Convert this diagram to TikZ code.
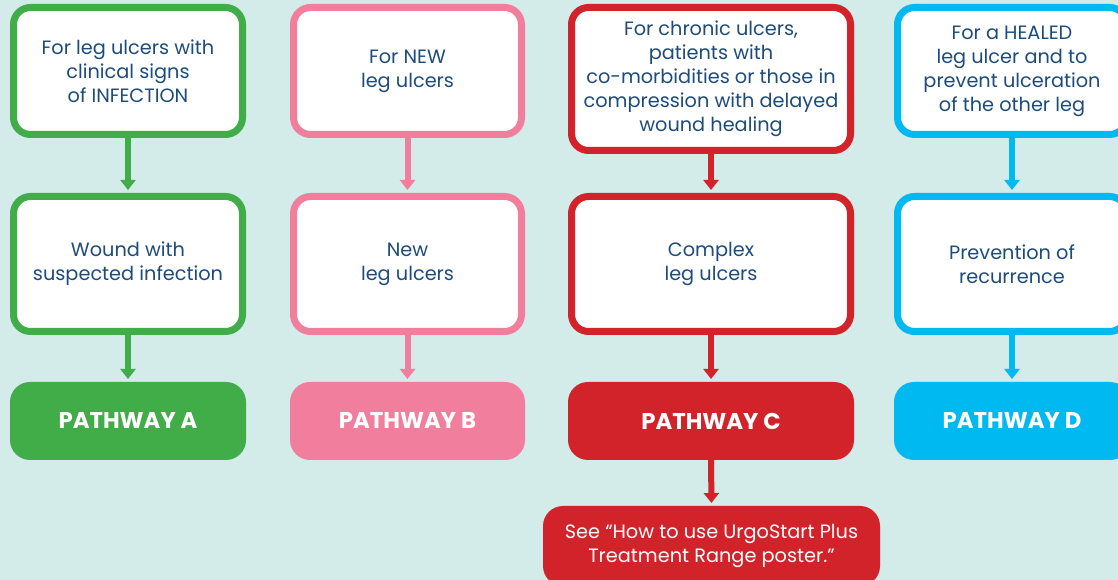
\documentclass[tikz,border=0pt]{standalone}
\usepackage{fontspec}
\setmainfont{Poppins}
\usetikzlibrary{arrows.meta}
\definecolor{bg}{HTML}{D3EBE9}
\definecolor{txt}{HTML}{1D4C7C}
\definecolor{cA}{HTML}{41AD49}
\definecolor{cB}{HTML}{F27E9E}
\definecolor{cC}{HTML}{D2232A}
\definecolor{cD}{HTML}{00B9F0}
\begin{document}
\begin{tikzpicture}[x=1pt,y=1pt,
 framebox/.style={draw=#1, line width=7pt, fill=white, rounded corners=17pt, inner sep=0pt, outer sep=0pt, align=center, text=txt, font=\fontsize{19.3}{24}\selectfont},
 pathbox/.style={fill=#1, rounded corners=20pt, inner sep=0pt, outer sep=0pt, text=white, font=\fontsize{22.8}{24}\selectfont\bfseries, minimum width=236pt, minimum height=78pt},
 flow/.style={draw=#1, line width=6pt, -{Triangle[width=15pt,length=10pt]}},
]
\useasboundingbox (0,0) rectangle (1118,580);
\clip (0,0) rectangle (1118,580);
\fill[bg] (0,0) rectangle (1118,580);

% Column A
\node[framebox=cA, minimum width=229pt, minimum height=127pt] (a1) at (128,509) {For leg ulcers with\\clinical signs\\of INFECTION};
\node[framebox=cA, minimum width=229pt, minimum height=135pt] (a2) at (128,316) {Wound with\\suspected infection};
\node[pathbox=cA] (a3) at (128,159) {PATHWAY A};
% Column B
\node[framebox=cB, minimum width=228pt, minimum height=127pt] (b1) at (407.5,509) {For NEW\\leg ulcers};
\node[framebox=cB, minimum width=228pt, minimum height=135pt] (b2) at (407.5,316) {New\\leg ulcers};
\node[pathbox=cB, minimum width=235pt] (b3) at (407.5,159) {PATHWAY B};
% Column C
\node[framebox=cC, minimum width=279pt, minimum height=143pt] (c1) at (711,501) {For chronic ulcers,\\patients with\\co-morbidities or those in\\compression with delayed\\wound healing};
\node[framebox=cC, minimum width=279pt, minimum height=135pt] (c2) at (711,316) {Complex\\leg ulcers};
\node[pathbox=cC, minimum width=286pt] (c3) at (711,159) {PATHWAY C};
\node[fill=cC, rounded corners=20pt, inner sep=0pt, outer sep=0pt, text=white, align=center, font=\fontsize{19.3}{24}\selectfont, minimum width=337pt, minimum height=80pt] (c4) at (711.5,34) {See “How to use UrgoStart Plus\\Treatment Range poster.”};
% Column D
\node[framebox=cD, minimum width=229pt, minimum height=127pt] (d1) at (1012,509) {For a HEALED\\leg ulcer and to\\prevent ulceration\\of the other leg};
\node[framebox=cD, minimum width=229pt, minimum height=135pt] (d2) at (1012,316) {Prevention of\\recurrence};
\node[pathbox=cD] (d3) at (1012,159) {PATHWAY D};

% Arrows
\draw[flow=cA, shorten >=6.5pt] (a1.south) -- (a2.north);
\draw[flow=cA, shorten >=3pt] (a2.south) -- (a3.north);
\draw[flow=cB, shorten >=6.5pt] (b1.south) -- (b2.north);
\draw[flow=cB, shorten >=3pt] (b2.south) -- (b3.north);
\draw[flow=cC, shorten >=6.5pt] (c1.south) -- (c2.north);
\draw[flow=cC, shorten >=3pt] (c2.south) -- (c3.north);
\draw[flow=cC, shorten >=3pt] (c3.south) -- (c4.north);
\draw[flow=cD, shorten >=6.5pt] (d1.south) -- (d2.north);
\draw[flow=cD, shorten >=3pt] (d2.south) -- (d3.north);
\end{tikzpicture}
\end{document}
